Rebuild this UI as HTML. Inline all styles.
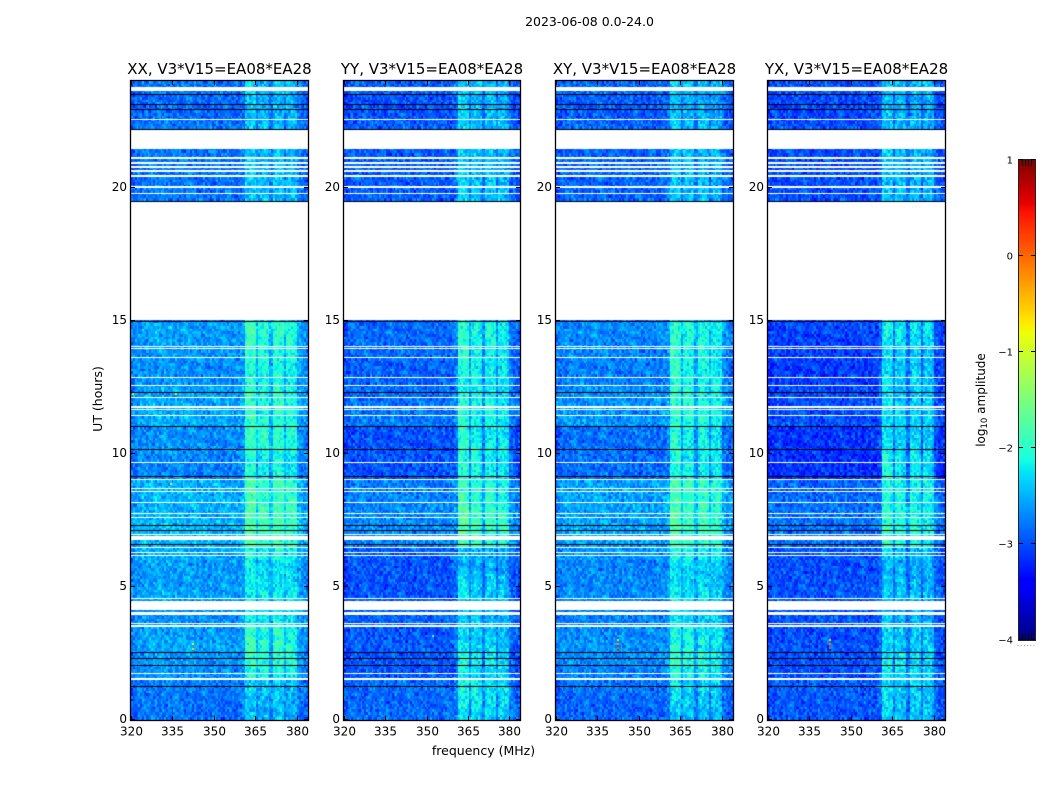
<!DOCTYPE html>
<html lang="en">
<head>
<meta charset="utf-8">
<title>2023-06-08 0.0-24.0</title>
<style>
html,body{margin:0;padding:0;background:#fff;}
#figure{position:relative;width:1050px;height:800px;overflow:hidden;background:#fff;}
#figure canvas{position:absolute;display:block;}
#overlay{position:absolute;left:0;top:0;}
#overlay text{font-family:"DejaVu Sans","Liberation Sans",sans-serif;fill:#000;}
</style>
</head>
<body>
<div id="figure">
<svg id="overlay" width="1050" height="800" viewBox="0 0 1050 800">
<text x="589.5" y="26" font-size="12.5" text-anchor="middle">2023-06-08 0.0-24.0</text>
<text x="483.5" y="755" font-size="12.5" text-anchor="middle">frequency (MHz)</text>
<text transform="translate(102,399) rotate(-90)" font-size="12.5" text-anchor="middle">UT (hours)</text>
<text transform="translate(985,400) rotate(-90)" font-size="12" text-anchor="middle">log<tspan font-size="8.5" dy="2">10</tspan><tspan dy="-2"> amplitude</tspan></text>
</svg>
</div>
<script>
// ---- chart data ----
const panelTitles = ["XX, V3*V15=EA08*EA28", "YY, V3*V15=EA08*EA28", "XY, V3*V15=EA08*EA28", "YX, V3*V15=EA08*EA28"];
const freqTicks = [320, 335, 350, 365, 380];
const hourTicks = [0, 5, 10, 15, 20];
const colorTicks = [1, 0, -1, -2, -3, -4];
const colorTickLabels = ["1", "0", "\u22121", "\u22122", "\u22123", "\u22124"];

// background log10 amplitude for each half hour, 0.0 to 24.0 UT
const levelsXX = [-2.88,-2.85,-2.82,-2.72,-2.68,-2.62,-2.66,-2.72,-2.72,-2.62,-2.66,-2.66,-2.58,-2.52,-2.52,-2.55,-2.55,-2.55,-2.78,-2.78,-2.72,-2.72,-2.6,-2.6,-2.62,-2.72,-2.72,-2.68,-2.66,-2.62,-2.9,-2.9,-2.9,-2.9,-2.9,-2.9,-2.9,-2.9,-2.9,-2.85,-2.85,-2.85,-2.85,-2.85,-2.85,-2.9,-2.9,-2.85];
const levelsYY = [-2.88,-2.9,-2.88,-2.98,-2.98,-2.96,-2.98,-2.92,-2.92,-2.98,-3.0,-3.0,-2.95,-2.75,-2.72,-2.72,-2.75,-2.78,-3.0,-3.0,-3.0,-3.0,-2.82,-2.82,-2.88,-2.92,-2.92,-2.88,-2.88,-2.88,-3.0,-3.0,-3.0,-3.0,-3.0,-3.0,-3.0,-3.0,-3.0,-2.95,-2.95,-2.95,-2.95,-2.95,-2.95,-2.98,-3.0,-2.95];
const levelsXY = [-2.92,-2.9,-2.85,-2.78,-2.72,-2.7,-2.72,-2.78,-2.78,-2.72,-2.76,-2.76,-2.68,-2.62,-2.6,-2.62,-2.62,-2.62,-2.88,-2.88,-2.86,-2.86,-2.68,-2.68,-2.7,-2.78,-2.78,-2.76,-2.74,-2.72,-2.95,-2.95,-2.95,-2.95,-2.95,-2.95,-2.95,-2.95,-2.95,-2.92,-2.92,-2.92,-2.92,-2.92,-2.92,-2.96,-2.96,-2.9];
const levelsYX = [-2.98,-2.98,-2.96,-3.02,-3.02,-3.0,-3.02,-3.0,-3.0,-2.98,-3.02,-3.02,-2.98,-2.86,-2.84,-2.84,-2.88,-2.9,-3.18,-3.18,-3.16,-3.16,-3.02,-3.02,-3.05,-3.1,-3.12,-3.1,-3.08,-3.05,-3.1,-3.1,-3.1,-3.1,-3.1,-3.1,-3.1,-3.1,-3.1,-3.02,-3.02,-3.02,-3.02,-3.02,-3.02,-3.05,-3.05,-3.0];

// strength of the 361-379 MHz emission for each half hour
const bandGainXX = [0.55,0.55,0.6,0.85,0.9,0.9,0.85,0.7,0.7,0.55,0.55,0.55,0.6,0.9,0.95,0.95,0.9,0.9,0.9,0.9,1,1,0.8,0.8,0.8,0.85,0.85,0.85,0.9,0.9,0.7,0.7,0.7,0.7,0.7,0.7,0.7,0.7,0.7,0.55,0.55,0.55,0.55,0.55,0.55,0.55,0.55,0.6];
const bandGainYY = [0.65,0.75,0.8,0.8,0.85,0.75,0.7,0.55,0.55,0.7,0.7,0.55,0.5,0.9,0.95,0.95,0.85,0.85,1,1,1,0.95,0.8,0.8,0.8,0.85,0.85,0.85,0.9,0.9,0.7,0.7,0.7,0.7,0.7,0.7,0.7,0.7,0.7,0.6,0.6,0.6,0.6,0.6,0.6,0.6,0.6,0.6];
const bandGainXY = [0.55,0.6,0.65,0.75,0.8,0.7,0.65,0.55,0.55,0.55,0.55,0.55,0.6,0.85,0.85,0.85,0.85,0.85,0.85,0.85,0.85,0.85,0.75,0.75,0.75,0.8,0.8,0.8,0.8,0.8,0.6,0.6,0.6,0.6,0.6,0.6,0.6,0.6,0.6,0.55,0.55,0.55,0.55,0.55,0.55,0.55,0.55,0.55];
const bandGainYX = [0.55,0.6,0.65,0.75,0.75,0.65,0.6,0.5,0.5,0.55,0.55,0.5,0.55,0.75,0.8,0.8,0.75,0.75,1,1,0.85,0.85,0.7,0.7,0.7,0.75,0.75,0.75,0.8,0.85,0.6,0.6,0.6,0.6,0.6,0.6,0.6,0.6,0.6,0.55,0.55,0.55,0.55,0.55,0.55,0.55,0.55,0.55];

// spectrum offset above background for each 1 MHz bin, 320 to 383 MHz
const spectrumXX = [-0.1,-0.05,0,0,0.03,0.03,0.03,0.03,0.05,0.05,0.05,0.05,0.05,0.05,0.05,0.03,0.03,0.03,0.03,0.03,0.03,0.03,0.03,0,0,0,0,0,0,0,0,0,0,0,0,0,0,0,0,0.02,0.05,0.8,0.8,0.82,0.78,0.28,0.62,0.68,0.68,0.6,0.2,0.72,0.75,0.72,0.7,0.24,0.62,0.66,0.62,0.58,0.08,0.0,-0.05,-0.08];
const spectrumYY = [-0.1,-0.05,0,0,0,0,0,0,0,0,0,0,0,0,0,0,0,0,0,0,0,0,0,0,0,0,0,0,0,0,0,0,0,0,0,0,0,0,0,0.02,0.12,0.98,1.0,1.0,0.95,0.3,0.85,0.88,0.85,0.75,0.22,0.8,0.85,0.82,0.8,0.24,0.75,0.8,0.75,0.62,0.1,0.02,-0.02,-0.08];
const spectrumXY = [-0.08,-0.04,0,0,0.02,0.02,0.02,0.02,0.02,0.02,0.02,0.02,0.02,0.02,0.02,0.02,0.02,0.02,0.02,0,0,0,0,0,0,0,0,0,0,0,0,0,0,0,0,0,0,0,0,0.02,0.1,0.92,0.95,0.98,0.9,0.3,0.78,0.82,0.82,0.7,0.22,0.75,0.82,0.78,0.75,0.26,0.68,0.74,0.7,0.6,0.08,0,-0.04,-0.08];
const spectrumYX = [-0.05,-0.02,0,0,0,0,0,0,0,0,0,0,0,0,0,0,0,0,0,0,0,0,0,0,0,0,0,0,0,0,0,0,0,0,0,0,0,0,0,0.03,0.12,1.08,1.1,1.08,1.02,0.35,0.95,0.98,0.92,0.8,0.28,0.92,0.98,0.95,0.9,0.3,0.9,0.95,0.88,0.7,0.1,0.02,-0.02,-0.05];

// flagged time ranges in hours [start, end]
const flaggedHours = [[23.61,23.79],[22.53,22.57],[21.44,22.21],[21.07,21.14],[20.88,20.94],[20.73,20.79],[20.58,20.64],[20.39,20.48],[20.0,20.06],[19.74,19.79],[15.01,19.49],[14.01,14.05],[13.94,13.98],[13.6,13.64],[12.85,12.89],[12.55,12.59],[12.1,12.14],[11.72,11.79],[11.65,11.69],[11.42,11.46],[9.66,9.7],[9.02,9.06],[8.69,8.73],[8.57,8.61],[8.16,8.2],[7.75,7.79],[7.6,7.64],[6.96,7.0],[6.75,6.9],[6.47,6.51],[6.28,6.32],[6.17,6.21],[4.56,4.6],[4.13,4.47],[3.96,4.05],[3.62,3.66],[3.51,3.55],[1.74,1.78],[1.52,1.56]];
// zero-amplitude (black) rows, hours
const blackHours = [23.53,23.15,23.12,22.93,22.2,19.48,14.97,12.33,11.03,10.17,9.16,7.32,7.13,6.6,2.55,2.33,2.06,1.28];

// isolated hot pixels: [panel, MHz, hour, log10 amplitude]
const hotPixels = [[2,342,3.05,-0.6],[2,342,2.9,-0.2],[2,342,2.75,0.1],[2,342,2.6,-0.1],[3,342,3.05,-0.6],[3,342,2.9,-0.1],[3,342,2.75,0.1],[0,342,2.9,-1.0],[0,342,2.7,-0.6],[0,336,12.3,-1.0],[0,320.5,12.3,-1.2],[0,334,8.9,-0.9],[1,352,3.2,-1.7]];

// fixed speckle texture digits for the heatmap cells
const speckleA = [3,1,4,1,5,9,2,6,5,3,5,8,9,7,9,3,2,3,8,4,6,2,6,4,3,3,8,3,2,7,9,5,0,2,8,8,4,1,9,7,1,6,9,3,9,9,3,7,5,1,0,5,8,2,0,9,7,4,9,4,4,5,9,2,3,0,7,8,1,6,4,0,6,2,8,6,2,0,8,9,9,8,6,2,8,0,3,4,8,2,5,3,4,2,1,1,7];
const speckleB = [2,7,1,8,2,8,1,8,2,8,4,5,9,0,4,5,2,3,5,3,6,0,2,8,7,4,7,1,3,5,2,6,6,2,4,9,7,7,5,7,2,4,7,0,9,3,6,9,9,9,5,9,5,7,4,9,6,6,9,6,7,6,2,7,7,2,4,0,7,6,6,3,0,3,5,3,5,4,7,5,9,4,5,7,1,3,8,2,1];

// ---- axis functions ----
const panelLefts = [131, 344, 556, 768];
const panelRights = [308, 520, 733, 945];
const plotTop = 81, plotBottom = 720;
const xScale = (p, mhz) => panelLefts[p] + (mhz - 320) / 64 * (panelRights[p] - panelLefts[p]);
const yScale = h => plotBottom - h / 24 * (plotBottom - plotTop);
const barTop = 160, barBottom = 640, barLeft = 1019, barRight = 1035;
const cScale = v => barBottom - (v + 4) / 5 * (barBottom - barTop);

const jetR = [[0,0],[0.35,0],[0.66,1],[0.89,1],[1,0.5]];
const jetG = [[0,0],[0.125,0],[0.375,1],[0.64,1],[0.91,0],[1,0]];
const jetB = [[0,0.5],[0.11,1],[0.34,1],[0.65,0],[1,0]];
function channel(stops, t) {
  for (let i = 1; i < stops.length; i++) {
    if (t <= stops[i][0]) {
      const a = stops[i - 1], b = stops[i];
      return Math.round(255 * (a[1] + (b[1] - a[1]) * (t - a[0]) / (b[0] - a[0])));
    }
  }
  return Math.round(255 * stops[stops.length - 1][1]);
}
function jet(v) {
  const t = Math.max(0, Math.min(1, (v + 4) / 5));
  return "rgb(" + channel(jetR, t) + "," + channel(jetG, t) + "," + channel(jetB, t) + ")";
}

const figure = document.getElementById("figure");
const overlay = document.getElementById("overlay");
const SVGNS = "http://www.w3.org/2000/svg";
const allLevels = [levelsXX, levelsYY, levelsXY, levelsYX];
const allGains = [bandGainXX, bandGainYY, bandGainXY, bandGainYX];
const allSpectra = [spectrumXX, spectrumYY, spectrumXY, spectrumYX];
const cellMHz = 0.667, cellHour = 0.1;

function drawPanel(p) {
  const left = panelLefts[p], right = panelRights[p];
  const canvas = document.createElement("canvas");
  
  
  canvas.width = right - left;
  canvas.height = plotBottom - plotTop;
  canvas.style.left = left + "px";
  canvas.style.top = plotTop + "px";
  const ctx = canvas.getContext("2d");
  const levels = allLevels[p], gains = allGains[p], spectrum = allSpectra[p];
  const cols = Math.ceil(64 / cellMHz), rows = Math.ceil(24 / cellHour);
  for (let r = 0; r < rows; r++) {
    const hour = r * cellHour;
    const halfHour = Math.min(47, Math.floor(hour * 2));
    const y1 = Math.round(yScale(hour)) - plotTop, y0 = Math.round(yScale(hour + cellHour)) - plotTop;
    for (let c = 0; c < cols; c++) {
      const mhz = 320 + c * cellMHz;
      const bin = Math.min(63, Math.floor(mhz - 320));
      const s = (speckleA[(c + r * 7 + p * 11) % speckleA.length] + speckleB[(c * 5 + r * 3 + p * 23) % speckleB.length] - 9) * 0.045;
      const x0 = Math.round(xScale(p, mhz)) - left, x1 = Math.round(xScale(p, mhz + cellMHz)) - left;
      const boost = spectrum[bin] > 0.15 ? spectrum[bin] * gains[halfHour] : spectrum[bin];
      ctx.fillStyle = jet(levels[halfHour] + boost + s);
      ctx.fillRect(x0, y0, x1 - x0, y1 - y0);
    }
  }
  hotPixels.filter(h => h[0] === p).forEach(h => {
    ctx.fillStyle = jet(h[3]);
    ctx.fillRect(Math.round(xScale(p, h[1])) - left, Math.round(yScale(h[2])) - plotTop, 2, 2);
  });
  ctx.fillStyle = "#fff";
  flaggedHours.forEach(f => {
    const y0 = Math.round(yScale(f[1])) - plotTop, y1 = Math.round(yScale(f[0])) - plotTop;
    ctx.fillRect(0, y0, canvas.width, Math.max(1, y1 - y0));
  });
  ctx.fillStyle = "#000";
  blackHours.forEach(h => {
    ctx.fillRect(0, Math.round(yScale(h)) - plotTop, canvas.width, 1);
  });
  figure.insertBefore(canvas, overlay);
}

function addLine(x1, y1, x2, y2, name, width, color) {
  const el = document.createElementNS(SVGNS, "line");
  
  
  el.setAttribute("x1", x1);
  el.setAttribute("y1", y1);
  el.setAttribute("x2", x2);
  el.setAttribute("y2", y2);
  el.setAttribute("stroke", color || "#000");
  el.setAttribute("stroke-width", width || 1);
  overlay.appendChild(el);
}
function addText(x, y, str, anchor, size, name) {
  const el = document.createElementNS(SVGNS, "text");
  
  
  el.setAttribute("x", x);
  el.setAttribute("y", y);
  el.setAttribute("text-anchor", anchor);
  el.setAttribute("font-size", size);
  el.textContent = str;
  overlay.appendChild(el);
}

function decoratePanel(p) {
  const left = panelLefts[p], right = panelRights[p];
  const frame = document.createElementNS(SVGNS, "rect");
  
  
  frame.setAttribute("x", left - 0.5);
  frame.setAttribute("y", plotTop - 0.5);
  frame.setAttribute("width", right - left + 1);
  frame.setAttribute("height", plotBottom - plotTop + 1);
  frame.setAttribute("fill", "none");
  frame.setAttribute("stroke", "#000");
  frame.setAttribute("stroke-width", "1.3");
  overlay.appendChild(frame);
  freqTicks.forEach(f => {
    const x = Math.round(xScale(p, f)) + 0.5;
    addLine(x, plotBottom, x, plotBottom - 4, "x-tick-bottom");
    addLine(x, plotTop, x, plotTop + 4, "x-tick-top");
    addText(x, plotBottom + 15.5, String(f), "middle", 12, "x-tick-label");
  });
  hourTicks.forEach(h => {
    const y = Math.round(yScale(h)) - 0.5;
    addLine(left, y, left + 4, y, "y-tick-left");
    addLine(right, y, right - 4, y, "y-tick-right");
    addText(left - 4, y + 3.5, String(h), "end", 12, "y-tick-label");
  });
  addText((left + right) / 2, plotTop - 7, panelTitles[p], "middle", 15, "panel-title");
}

function drawColorbar() {
  const canvas = document.createElement("canvas");
  
  
  canvas.width = barRight - barLeft;
  canvas.height = barBottom - barTop;
  canvas.style.left = barLeft + "px";
  canvas.style.top = barTop + "px";
  const ctx = canvas.getContext("2d");
  for (let y = 0; y < canvas.height; y++) {
    ctx.fillStyle = jet(1 - (y + 0.5) / canvas.height * 5);
    ctx.fillRect(0, y, canvas.width, 1);
  }
  figure.insertBefore(canvas, overlay);
  const frame = document.createElementNS(SVGNS, "rect");
  
  
  frame.setAttribute("x", barLeft - 0.5);
  frame.setAttribute("y", barTop - 0.5);
  frame.setAttribute("width", barRight - barLeft + 1);
  frame.setAttribute("height", barBottom - barTop + 1);
  frame.setAttribute("fill", "none");
  frame.setAttribute("stroke", "#222");
  frame.setAttribute("stroke-width", "1");
  overlay.appendChild(frame);
  colorTicks.forEach((v, i) => {
    const y = Math.round(cScale(v)) - 0.5;
    addLine(barLeft, y, barLeft + 4, y, "colorbar-tick");
    addLine(barRight, y, barRight - 4, y, "colorbar-tick");
    addText(barLeft - 6, y + 4, colorTickLabels[i], "end", 10, "colorbar-tick-label");
  });
  for (let i = 0; i < 4; i++) {
    const x = barLeft + 3 + i * 3 + 0.5;
    addLine(x, barTop, x, barTop + 6, "colorbar-minor-tick");
    addLine(x, barBottom, x, barBottom - 6, "colorbar-minor-tick");
  }
  for (let i = 0; i < 6; i++) {
    const x = barLeft - 1.5 + i * 3.2;
    addLine(x, barBottom + 5.5, x + 1, barBottom + 5.5, "colorbar-minor-tick-dot", 1, "#999");
  }
}

[0, 1, 2, 3].forEach(drawPanel);
[0, 1, 2, 3].forEach(decoratePanel);
drawColorbar();
</script>
</body>
</html>
